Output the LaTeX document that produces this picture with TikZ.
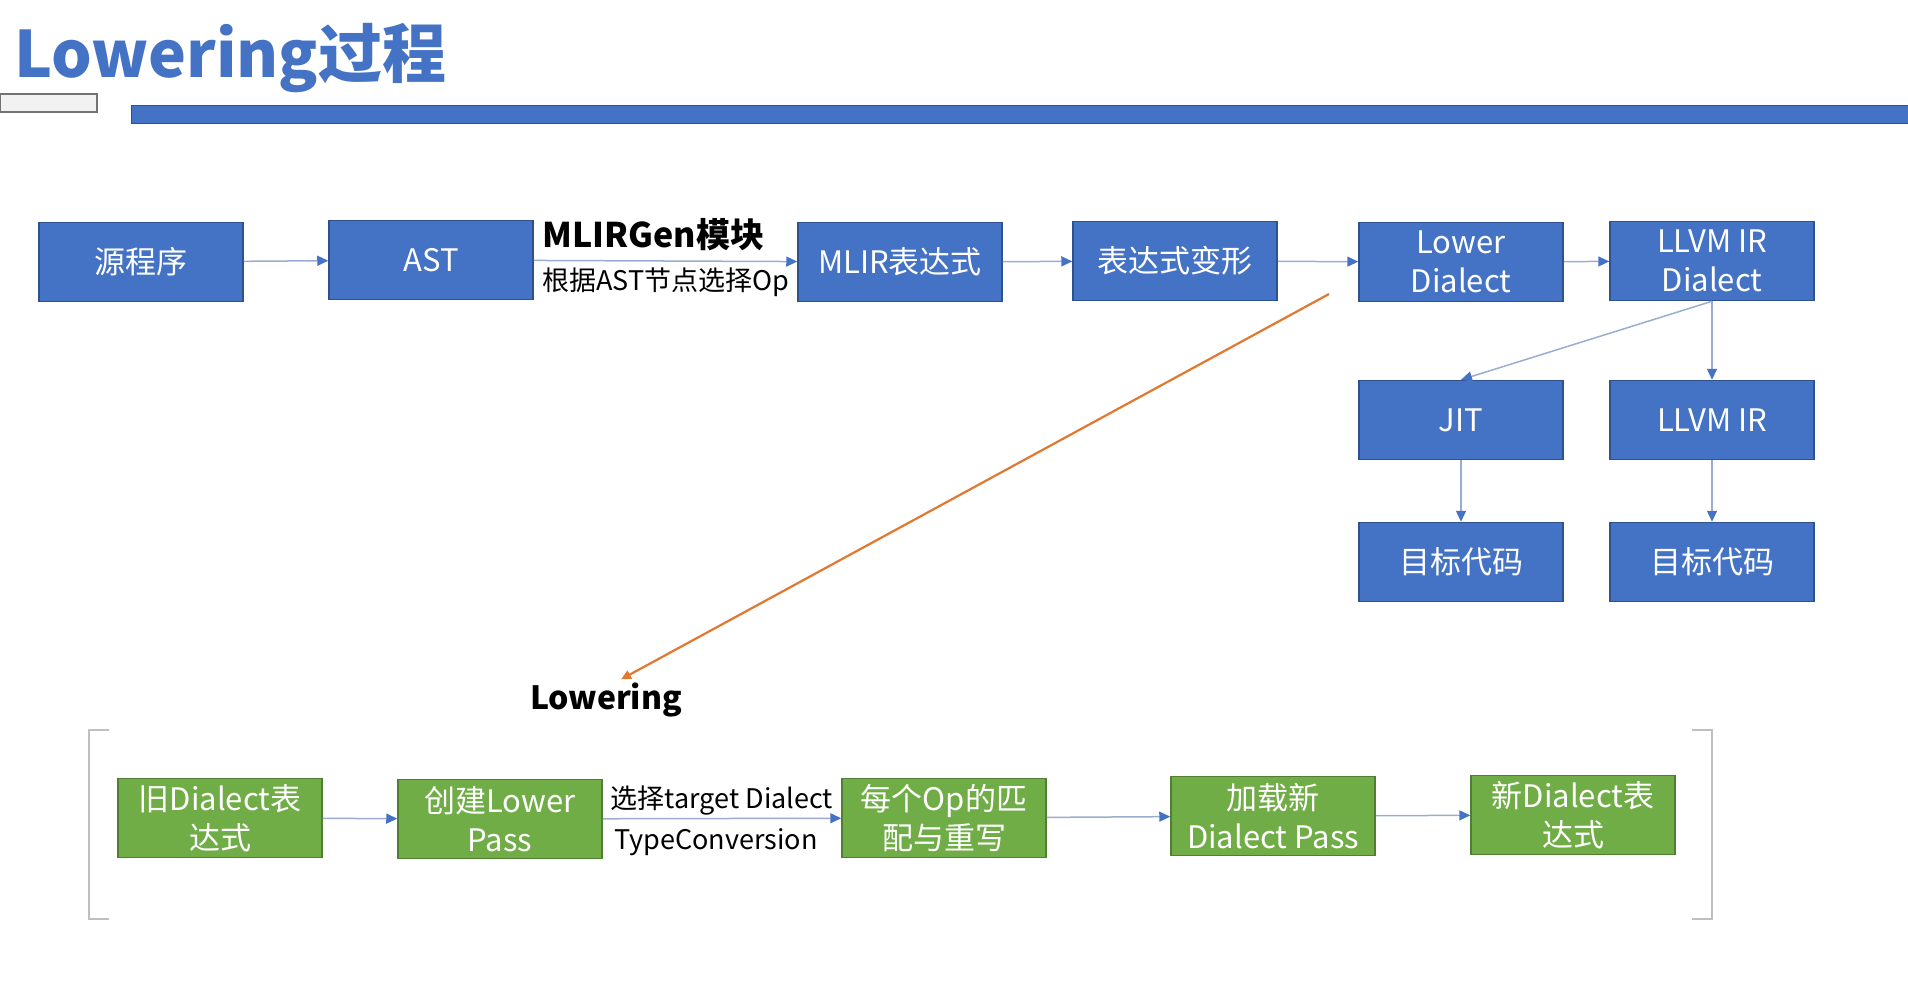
\documentclass[tikz,border=0pt]{standalone}
\usepackage{fontspec}
\setmainfont{Noto Sans CJK SC}
\usetikzlibrary{arrows.meta}
\definecolor{boxblue}{HTML}{4472C4}
\definecolor{edgeblue}{HTML}{2F528F}
\definecolor{boxgreen}{HTML}{70AD47}
\definecolor{edgegreen}{HTML}{507E32}
\definecolor{linegray}{HTML}{9AADD0}
\definecolor{lineorange}{HTML}{E0782F}
\begin{document}
\begin{tikzpicture}[x=1pt, y=-1pt,
    block/.style={rectangle, draw=edgeblue, line width=1.5pt,
                  minimum width=204pt, minimum height=79pt,
                  inner sep=0pt, text centered, align=center,
                  fill=boxblue, text=white,
                  font=\fontsize{31}{39}\selectfont},
    blockgreen/.style={rectangle, draw=edgegreen, line width=1.5pt,
                  minimum width=204pt, minimum height=79pt,
                  inner sep=0pt, text centered, align=center,
                  fill=boxgreen, text=white,
                  font=\fontsize{31}{39}\selectfont},
    arrow/.style={draw=linegray, line width=1.5pt,
                  -{Triangle[length=11pt, width=10pt, color=boxblue]}},
    lowerarrow/.style={draw=lineorange, line width=2.2pt,
                  -{Triangle[length=10pt, width=9pt]}},
    lbl/.style={font=\fontsize{27}{32}\selectfont, inner sep=4pt},
    bracket/.style={draw=black!25, line width=1.5pt}
]
    \useasboundingbox (0, 0) rectangle (1908, 989);

    % Titel
    \node[anchor=base west, text=boxblue, inner sep=0pt,
          font=\fontsize{64}{74}\bfseries] (title) at (14, 77)
        {Lowering过程};
    \fill[fill=black!5, draw=black!55, line width=1.5pt]
        (0, 94) rectangle (97, 112);
    \fill[fill=boxblue, draw=edgeblue, line width=1pt]
        (131, 105) rectangle (1910, 123);

    % Bovenste rij
    \node[block] (src) at (141, 262) {源程序};
    \node[block] (ast) at (431, 260) {AST};
    \node[block] (mlir) at (900, 262) {MLIR表达式};
    \node[block] (trans) at (1175, 261) {表达式变形};
    \node[block] (lower) at (1461, 262) {Lower\\Dialect};
    \node[block] (llvmd) at (1712, 261) {LLVM IR\\Dialect};

    % Uitvoer
    \node[block] (jit) at (1461, 420) {JIT};
    \node[block] (llvm) at (1712, 420) {LLVM IR};
    \node[block] (tgtjit) at (1461, 562) {目标代码};
    \node[block] (tgtllvm) at (1712, 562) {目标代码};

    % Lowering stappen
    \node[blockgreen] (old) at (220, 818) {旧Dialect表\\达式};
    \node[blockgreen] (pass) at (500, 819) {创建Lower\\Pass};
    \node[blockgreen] (match) at (944, 818) {每个Op的匹\\配与重写};
    \node[blockgreen] (load) at (1273, 816) {加载新\\Dialect Pass};
    \node[blockgreen] (new) at (1573, 815) {新Dialect表\\达式};

    \node[font=\fontsize{32}{36}\bfseries] (lowlbl) at (606, 700)
        {Lowering};

    % Haken
    \draw[bracket] (109, 730) -- (89, 730) -- (89, 919) -- (109, 919);
    \draw[bracket] (1692, 730) -- (1712, 730) -- (1712, 919) -- (1692, 919);

    % Pijlen
    \draw[arrow] (src) -- (ast);
    \draw[arrow] (ast) --
        node[above, xshift=-12pt, font=\fontsize{34}{38}\bfseries,
             inner sep=9pt] {MLIRGen模块}
        node[below, lbl, inner sep=6pt] {根据AST节点选择Op} (mlir);
    \draw[arrow] (mlir) -- (trans);
    \draw[arrow] (trans) -- (lower);
    \draw[arrow] (lower) -- (llvmd);
    \draw[arrow] (llvmd.south) -- (jit.north);
    \draw[arrow] (llvmd) -- (llvm);
    \draw[arrow] (jit) -- (tgtjit);
    \draw[arrow] (llvm) -- (tgtllvm);

    \coordinate (cut) at (1329, 294);
    \draw[lowerarrow] (cut) -- ([xshift=15pt]lowlbl.north);

    \draw[arrow] (old) -- (pass);
    \draw[arrow] (pass) -- node[above, lbl, inner sep=3pt] {选择target Dialect}
        node[below, lbl, xshift=-6pt, inner sep=9pt] {TypeConversion} (match);
    \draw[arrow] (match) -- (load);
    \draw[arrow] (load) -- (new);

\end{tikzpicture}
\end{document}
